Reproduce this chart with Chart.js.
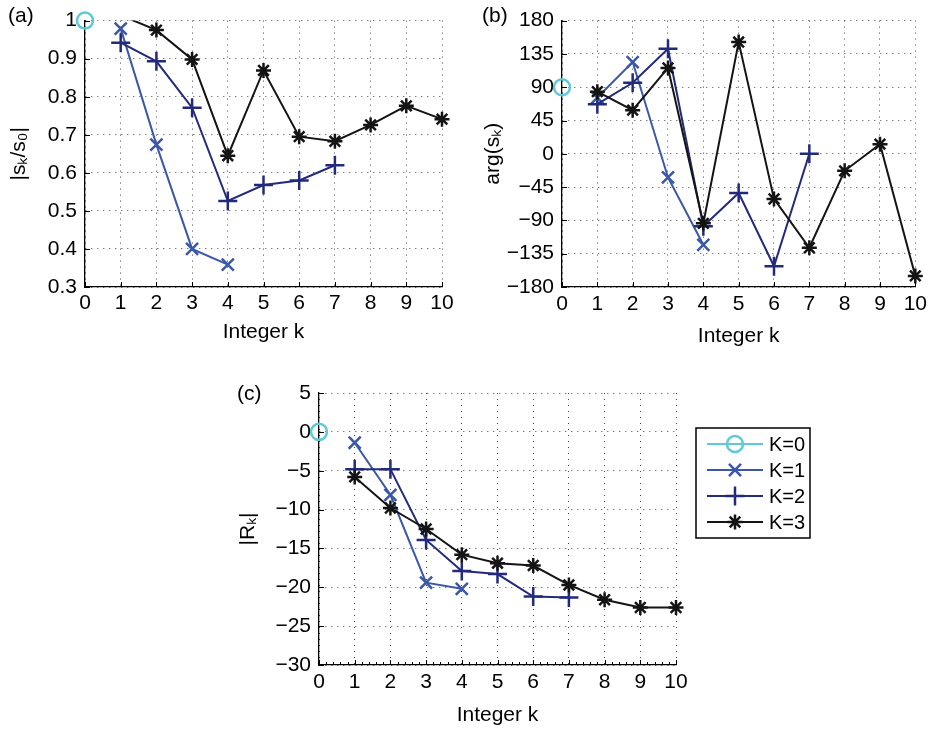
<!DOCTYPE html>
<html>
<head>
<meta charset="utf-8">
<script src="https://cdn.jsdelivr.net/npm/chart.js@4.4.1/dist/chart.umd.min.js"></script>
<style>
  body { margin: 0; background: #fff; }
  #wrap { position: relative; width: 932px; height: 729px; overflow: hidden; background: #fff; }
  canvas { position: absolute; }
  .tag { position: absolute; font: 21px "Liberation Sans", Arial, sans-serif; color: #000; line-height: 21px; white-space: nowrap; }
</style>
</head>
<body>
<div id="wrap">
  <canvas id="chart-a" width="466" height="350" style="left:0;top:0"></canvas>
  <canvas id="chart-b" width="466" height="350" style="left:466px;top:0"></canvas>
  <canvas id="chart-c" width="620" height="369" style="left:220px;top:360px"></canvas>
  <div class="tag" style="left:8px;top:4px">(a)</div>
  <div class="tag" style="left:482px;top:4px">(b)</div>
  <div class="tag" style="left:237px;top:382px">(c)</div>
</div>
<script>
// series K=0 starts at k=0, the others at k=1
const seriesLabels = ["K=0", "K=1", "K=2", "K=3"];
const seriesStart = [0, 1, 1, 1];
const kTicks = [0, 1, 2, 3, 4, 5, 6, 7, 8, 9, 10];

// (a) |s_k / s_0|
const magK0 = [1.0];
const magK1 = [0.979, 0.674, 0.4, 0.359];
const magK2 = [0.942, 0.893, 0.771, 0.526, 0.568, 0.58, 0.62];
const magK3 = [1.014, 0.975, 0.898, 0.645, 0.869, 0.695, 0.683, 0.726, 0.776, 0.741];
const magTicks = [0.3, 0.4, 0.5, 0.6, 0.7, 0.8, 0.9, 1];

// (b) arg(s_k) in degrees
const argK0 = [90];
const argK1 = [76, 124, -32, -123];
const argK2 = [67, 96, 142, -98, -53, -152, 0];
const argK3 = [84, 59, 116, -94, 151, -61, -127, -23, 13, -165];
const argTicks = [-180, -135, -90, -45, 0, 45, 90, 135, 180];

// (c) |R_k|
const resK0 = [0];
const resK1 = [-1.4, -8.1, -19.4, -20.2];
const resK2 = [-4.8, -4.8, -13.9, -17.9, -18.3, -21.2, -21.3];
const resK3 = [-5.8, -9.8, -12.5, -15.8, -16.9, -17.2, -19.7, -21.6, -22.6, -22.6];
const resTicks = [-30, -25, -20, -15, -10, -5, 0, 5];

const seriesColors = ["#5fc9d9", "#3a57a8", "#232a7c", "#141414"];
const seriesMarkers = ["circle", "crossRot", "cross", "star"];
const markerSizes = [8, 8.5, 9.5, 7.5];

const FONT = '"Liberation Sans", Arial, Helvetica, sans-serif';
Chart.defaults.font.family = FONT;
Chart.defaults.font.size = 21;
Chart.defaults.color = "#000";

const toPoints = (values, start) => values.map((v, i) => ({ x: start + i, y: v }));
const minus = (v) => String(v).replace("-", "\u2212");

// small ticks pointing into the plot, like the MATLAB axes
const innerTicks = {
    id: "innerTicks",
    afterDraw(chart, args, opts) {
        const { ctx, chartArea, scales } = chart;
        ctx.save();
        ctx.strokeStyle = "#000";
        ctx.lineWidth = 1;
        ctx.beginPath();
        scales.x.ticks.forEach((t) => {
            const px = Math.round(scales.x.getPixelForValue(t.value)) + 0.5;
            ctx.moveTo(px, chartArea.bottom);
            ctx.lineTo(px, chartArea.bottom - 5);
        });
        if (opts.minor) {
            for (let v = scales.x.min; v <= scales.x.max + 1e-9; v += opts.minor) {
                const px = Math.round(scales.x.getPixelForValue(v)) + 0.5;
                ctx.moveTo(px, chartArea.bottom);
                ctx.lineTo(px, chartArea.bottom - 3);
            }
        }
        scales.y.ticks.forEach((t) => {
            const py = Math.round(scales.y.getPixelForValue(t.value)) + 0.5;
            ctx.moveTo(chartArea.left, py);
            ctx.lineTo(chartArea.left + 5, py);
        });
        ctx.stroke();
        ctx.restore();
    },
};

function drawMarker(ctx, style, x, y, r) {
    ctx.beginPath();
    if (style === "circle") {
        ctx.arc(x, y, r, 0, Math.PI * 2);
    } else {
        const d = r * Math.SQRT1_2;
        if (style === "cross" || style === "star") {
            ctx.moveTo(x - r, y); ctx.lineTo(x + r, y);
            ctx.moveTo(x, y - r); ctx.lineTo(x, y + r);
        }
        if (style === "crossRot" || style === "star") {
            ctx.moveTo(x - d, y - d); ctx.lineTo(x + d, y + d);
            ctx.moveTo(x - d, y + d); ctx.lineTo(x + d, y - d);
        }
    }
    ctx.stroke();
}

// boxed legend with line + marker, drawn next to panel (c)
const boxLegend = {
    id: "boxLegend",
    afterDraw(chart, args, opts) {
        if (!opts.show) return;
        const { ctx } = chart;
        ctx.save();
        ctx.fillStyle = "#fff";
        ctx.fillRect(opts.x, opts.y, opts.width, opts.height);
        ctx.strokeStyle = "#000";
        ctx.lineWidth = 1.5;
        ctx.strokeRect(opts.x, opts.y, opts.width, opts.height);
        chart.data.datasets.forEach((ds, i) => {
            const y = opts.y + 16 + i * 26;
            const x1 = opts.x + 11;
            const x2 = opts.x + 67;
            ctx.strokeStyle = ds.borderColor;
            ctx.lineWidth = 2;
            ctx.beginPath();
            ctx.moveTo(x1, y);
            ctx.lineTo(x2, y);
            ctx.stroke();
            ctx.lineWidth = 2.5;
            drawMarker(ctx, ds.pointStyle, (x1 + x2) / 2, y, markerSizes[i]);
            ctx.fillStyle = "#000";
            ctx.font = "20px " + FONT;
            ctx.textBaseline = "middle";
            ctx.fillText(ds.label, x2 + 6, y + 1);
        });
        ctx.restore();
    },
};

function makeDatasets(seriesValues, topClipIndex) {
    return seriesValues.map((values, i) => ({
        label: seriesLabels[i],
        data: toPoints(values, seriesStart[i]),
        showLine: true,
        borderColor: seriesColors[i],
        backgroundColor: "rgba(0,0,0,0)",
        borderWidth: 2,
        pointStyle: seriesMarkers[i],
        pointRadius: (ctx) => (ctx.raw && ctx.raw.y > ctx.chart.scales.y.max ? 0 : markerSizes[i]),
        pointBorderColor: seriesColors[i],
        pointBackgroundColor: "rgba(0,0,0,0)",
        pointBorderWidth: 2.5,
        tension: 0,
        clip: i === topClipIndex ? { left: 15, top: 0, right: 15, bottom: 15 } : false,
        order: 4 - i,
    }));
}

function makeChart(id, cfg) {
    return new Chart(document.getElementById(id), {
        type: "line",
        data: { datasets: makeDatasets(cfg.series, cfg.topClipIndex) },
        options: {
            responsive: false,
            animation: false,
            events: [],
            layout: { padding: cfg.padding },
            scales: {
                x: {
                    type: "linear",
                    min: 0,
                    max: 10,
                    afterBuildTicks: (scale) => {
                        scale.ticks = kTicks.map((v) => ({ value: v }));
                    },
                    afterFit: (scale) => {
                        scale.height = cfg.xHeight;
                    },
                    grid: { color: "#444", lineWidth: 1, drawTicks: false },
                    border: { display: true, color: "#000", width: 1.3, dash: [1, 5] },
                    ticks: { padding: cfg.xPad, maxRotation: 0, autoSkip: false },
                    title: {
                        display: true,
                        text: "Integer k",
                        font: { size: 21 },
                        padding: { top: 0, bottom: cfg.xTitlePad },
                    },
                },
                y: {
                    type: "linear",
                    min: cfg.yTicks[0],
                    max: cfg.yTicks[cfg.yTicks.length - 1],
                    afterBuildTicks: (scale) => {
                        scale.ticks = cfg.yTicks.map((v) => ({ value: v }));
                    },
                    afterFit: (scale) => {
                        scale.width = cfg.yWidth;
                    },
                    grid: { color: "#444", lineWidth: 1, drawTicks: false },
                    border: { display: true, color: "#000", width: 1.3, dash: [1, 5] },
                    ticks: { padding: 8, autoSkip: false, callback: (v) => minus(v) },
                    title: {
                        display: true,
                        text: cfg.yTitle,
                        font: { size: 21 },
                        padding: { top: cfg.yTitlePad, bottom: 0 },
                    },
                },
            },
            plugins: {
                legend: { display: false },
                tooltip: { enabled: false },
                innerTicks: { minor: cfg.minor || 0 },
                boxLegend: cfg.legend || { show: false },
            },
        },
        plugins: [innerTicks, boxLegend],
    });
}

makeChart("chart-a", {
    series: [magK0, magK1, magK2, magK3],
    topClipIndex: 3,
    yTicks: magTicks,
    yTitle: "|s\u2096/s\u2080|",
    padding: { top: 15, right: 24, left: 0, bottom: 0 },
    yWidth: 85,
    xHeight: 63,
    xPad: 4,
    xTitlePad: 5,
    yTitlePad: 7,
});

makeChart("chart-b", {
    series: [argK0, argK1, argK2, argK3],
    yTicks: argTicks,
    yTitle: "arg(s\u2096)",
    padding: { top: 15, right: 14, left: 0, bottom: 0 },
    yWidth: 96,
    xHeight: 63,
    xPad: 5,
    xTitlePad: 1,
    yTitlePad: 15,
});

makeChart("chart-c", {
    series: [resK0, resK1, resK2, resK3],
    yTicks: resTicks,
    yTitle: "|R\u2096|",
    padding: { top: 33, right: 164, left: 0, bottom: 0 },
    yWidth: 99,
    xHeight: 64,
    xPad: 5,
    xTitlePad: 1,
    yTitlePad: 16,
    minor: 0.2,
    legend: { show: true, x: 476, y: 68, width: 114, height: 110 },
});
</script>
</body>
</html>
